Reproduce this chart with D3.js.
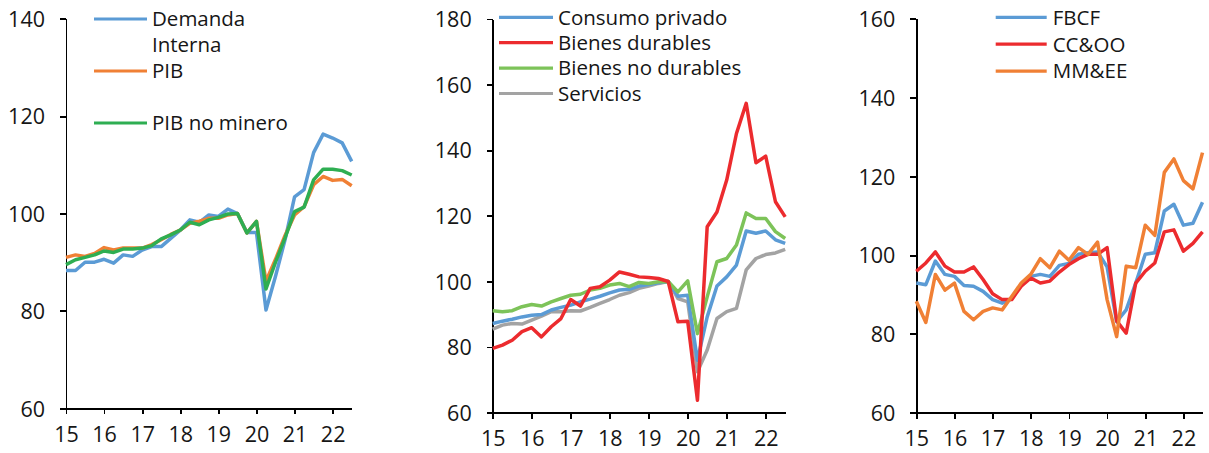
<!DOCTYPE html>
<html>
<head>
<meta charset="utf-8">
<title>Demanda interna, consumo e inversión</title>
<style type="text/css">
	body {
		margin: 0;
		background: white;
	}
	svg text {
		font-family: "Open Sans", "Noto Sans", sans-serif;
		fill: #161616;
	}
	.axis text {
		font-size: 21.5px;
	}
	.axis path, .axis line {
		stroke: #000;
		stroke-width: 1.8px;
		shape-rendering: crispEdges;
	}
	.legend-txt {
		font-size: 20.5px;
	}
	.series {
		fill: none;
		stroke-width: 3.5px;
		stroke-linejoin: round;
	}
</style>
</head>
<body>
<svg id="chart"></svg>

<script src="https://cdnjs.cloudflare.com/ajax/libs/d3/7.8.5/d3.min.js"></script>
<script type="text/javascript">

	// quarters 2015Q1 .. 2022Q3, index 100 = 2019Q3
	var yearLabels = ["15", "16", "17", "18", "19", "20", "21", "22"];

	// panel 1
	var demandaInterna = [88.3, 88.3, 90.0, 90.0, 90.6, 89.8, 91.5, 91.2, 92.5, 93.2, 93.2, 94.9, 96.6, 98.7, 98.2, 99.7,
		99.4, 100.9, 100.0, 96.1, 96.1, 80.2, 87.1, 94.6, 103.4, 104.9, 112.5, 116.3, 115.5, 114.5, 110.7];
	var pib = [91.0, 91.5, 91.2, 91.8, 93.0, 92.5, 92.9, 92.9, 92.9, 93.6, 94.6, 95.7, 96.6, 98.0, 98.4, 99.0,
		99.0, 99.7, 100.0, 96.0, 98.4, 86.1, 90.6, 95.5, 99.7, 101.4, 105.9, 107.6, 106.8, 107.0, 105.7];
	var pibNoMinero = [89.5, 90.5, 91.0, 91.5, 92.3, 92.0, 92.7, 92.7, 92.9, 93.4, 94.8, 95.6, 96.6, 98.2, 97.7, 98.7,
		99.2, 99.9, 100.0, 96.0, 98.4, 84.5, 90.0, 95.0, 100.4, 101.3, 106.9, 109.1, 109.1, 108.8, 107.9];

	// panel 2
	var consumoPrivado = [87.2, 87.9, 88.5, 89.2, 89.7, 89.9, 91.3, 92.1, 92.8, 93.8, 94.6, 95.5, 96.5, 97.4, 97.6, 98.6,
		99.1, 99.6, 100.0, 95.5, 95.8, 76.0, 89.2, 98.6, 101.4, 105.0, 115.4, 114.7, 115.4, 112.7, 111.6];
	var bienesDurables = [79.6, 80.6, 82.1, 84.7, 85.9, 83.1, 86.2, 88.7, 94.5, 92.5, 97.9, 98.4, 100.4, 102.9, 102.2, 101.4,
		101.2, 100.9, 100.0, 87.7, 87.9, 63.8, 116.7, 121.2, 130.9, 145.1, 154.3, 136.2, 138.2, 124.3, 119.7];
	var bienesNoDurables = [91.1, 90.8, 91.1, 92.3, 93.0, 92.5, 93.8, 94.8, 95.8, 96.1, 97.4, 97.9, 98.9, 99.4, 98.4, 99.7,
		99.4, 99.9, 100.0, 96.8, 100.2, 84.1, 95.3, 106.0, 107.0, 111.1, 120.9, 119.2, 119.2, 115.2, 113.1];
	var servicios = [85.5, 86.7, 87.2, 87.0, 88.2, 89.4, 90.8, 90.8, 91.1, 91.0, 92.1, 93.3, 94.5, 95.8, 96.6, 97.9,
		98.6, 99.4, 100.0, 94.8, 93.8, 72.5, 79.1, 88.7, 90.8, 91.8, 103.5, 107.0, 108.2, 108.7, 109.8];

	// panel 3
	var fbcf = [92.9, 92.5, 98.5, 95.1, 94.6, 92.3, 92.1, 90.8, 88.7, 87.8, 88.9, 92.5, 94.6, 95.1, 94.6, 97.4,
		97.9, 100.2, 100.6, 100.8, 97.0, 83.1, 86.1, 92.9, 100.2, 100.6, 111.2, 112.9, 107.6, 108.1, 113.4];
	var ccoo = [95.9, 98.0, 100.8, 97.2, 95.7, 95.7, 97.0, 93.8, 90.2, 88.7, 88.7, 92.1, 94.2, 92.9, 93.4, 95.7,
		97.6, 99.1, 100.2, 100.2, 101.9, 83.3, 80.2, 92.9, 95.9, 98.0, 105.9, 106.4, 101.0, 103.0, 105.9];
	var mmee = [88.3, 82.9, 95.1, 91.1, 92.9, 85.7, 83.6, 85.7, 86.6, 86.1, 89.5, 92.9, 95.1, 99.1, 96.8, 101.0,
		98.7, 101.9, 100.2, 103.3, 88.7, 79.3, 97.2, 96.8, 107.6, 105.0, 121.0, 124.4, 118.9, 116.8, 126.0];

	var panels = [
		{
			left: 66, right: 351.7, top: 18.7, bottom: 408.3,
			yDomain: [60, 140],
			legend: {x1: 94, x2: 147, tx: 152, y0: 19, step: 52},
			series: [
				{name: ["Demanda", "Interna"], values: demandaInterna, color: "#5b9bd5"},
				{name: ["PIB"], values: pib, color: "#f08035"},
				{name: ["PIB no minero"], values: pibNoMinero, color: "#2eae52"}
			]
		},
		{
			left: 492.7, right: 785.2, top: 19, bottom: 412.7,
			yDomain: [60, 180],
			legend: {x1: 499, x2: 553, tx: 558, y0: 17.3, step: 25.4},
			series: [
				{name: ["Consumo privado"], values: consumoPrivado, color: "#5b9bd5"},
				{name: ["Bienes durables"], values: bienesDurables, color: "#ec2b2e"},
				{name: ["Bienes no durables"], values: bienesNoDurables, color: "#7dc359"},
				{name: ["Servicios"], values: servicios, color: "#a3a3a3"}
			],
			// drawing order: gray under others
			order: [3, 0, 2, 1]
		},
		{
			left: 916.3, right: 1202.5, top: 18.7, bottom: 412.7,
			yDomain: [60, 160],
			legend: {x1: 995.7, x2: 1046.7, tx: 1052.7, y0: 17.3, step: 26.9},
			series: [
				{name: ["FBCF"], values: fbcf, color: "#5b9bd5"},
				{name: ["CC&OO"], values: ccoo, color: "#ec2b2e"},
				{name: ["MM&EE"], values: mmee, color: "#f08035"}
			]
		}
	];

	var svg = d3.select("#chart")
		.attr("width", 1209)
		.attr("height", 453);

	panels.forEach(function(p) {
		var n = p.series[0].values.length;

		var x = d3.scaleLinear()
			.domain([0, n - 1])
			.range([p.left, p.right]);

		var y = d3.scaleLinear()
			.domain(p.yDomain)
			.range([p.bottom, p.top]);

		var yearTicks = yearLabels.map((d, i) => i * 4);

		var g = svg.append("g");

		// y axis
		g.append("g")
			.attr("class", "axis")
			.attr("transform", `translate(${p.left}, 0)`)
			.call(d3.axisLeft(y).tickValues(d3.range(p.yDomain[0], p.yDomain[1] + 1, 20))
				.tickSize(6).tickSizeOuter(0).tickPadding(15))
			.selectAll("text")
			.attr("dy", "0.36em");

		// x axis
		g.append("g")
			.attr("class", "axis")
			.attr("transform", `translate(0, ${p.bottom})`)
			.call(d3.axisBottom(x).tickValues(yearTicks).tickFormat((d, i) => yearLabels[i])
				.tickSize(6).tickSizeOuter(0).tickPadding(12));

		var line = d3.line()
			.x((d, i) => x(i))
			.y(d => y(d));

		var order = p.order || p.series.map((d, i) => i);
		order.forEach(function(k) {
			var s = p.series[k];
			g.append("path")
				.datum(s.values)
				.attr("class", "series")
				.attr("stroke", s.color)
				.attr("d", line);
		});

		// legend
		var lg = p.legend;
		p.series.forEach(function(s, i) {
			var cy = lg.y0 + i * lg.step;
			g.append("line")
				.attr("x1", lg.x1)
				.attr("x2", lg.x2)
				.attr("y1", cy)
				.attr("y2", cy)
				.attr("stroke", s.color)
				.attr("stroke-width", 3.2);
			s.name.forEach(function(t, j) {
				g.append("text")
					.attr("class", "legend-txt")
					.attr("x", lg.tx)
					.attr("y", cy + j * 26)
					.attr("dy", "0.36em")
					.text(t);
			});
		});
	});
</script>
</body>
</html>
